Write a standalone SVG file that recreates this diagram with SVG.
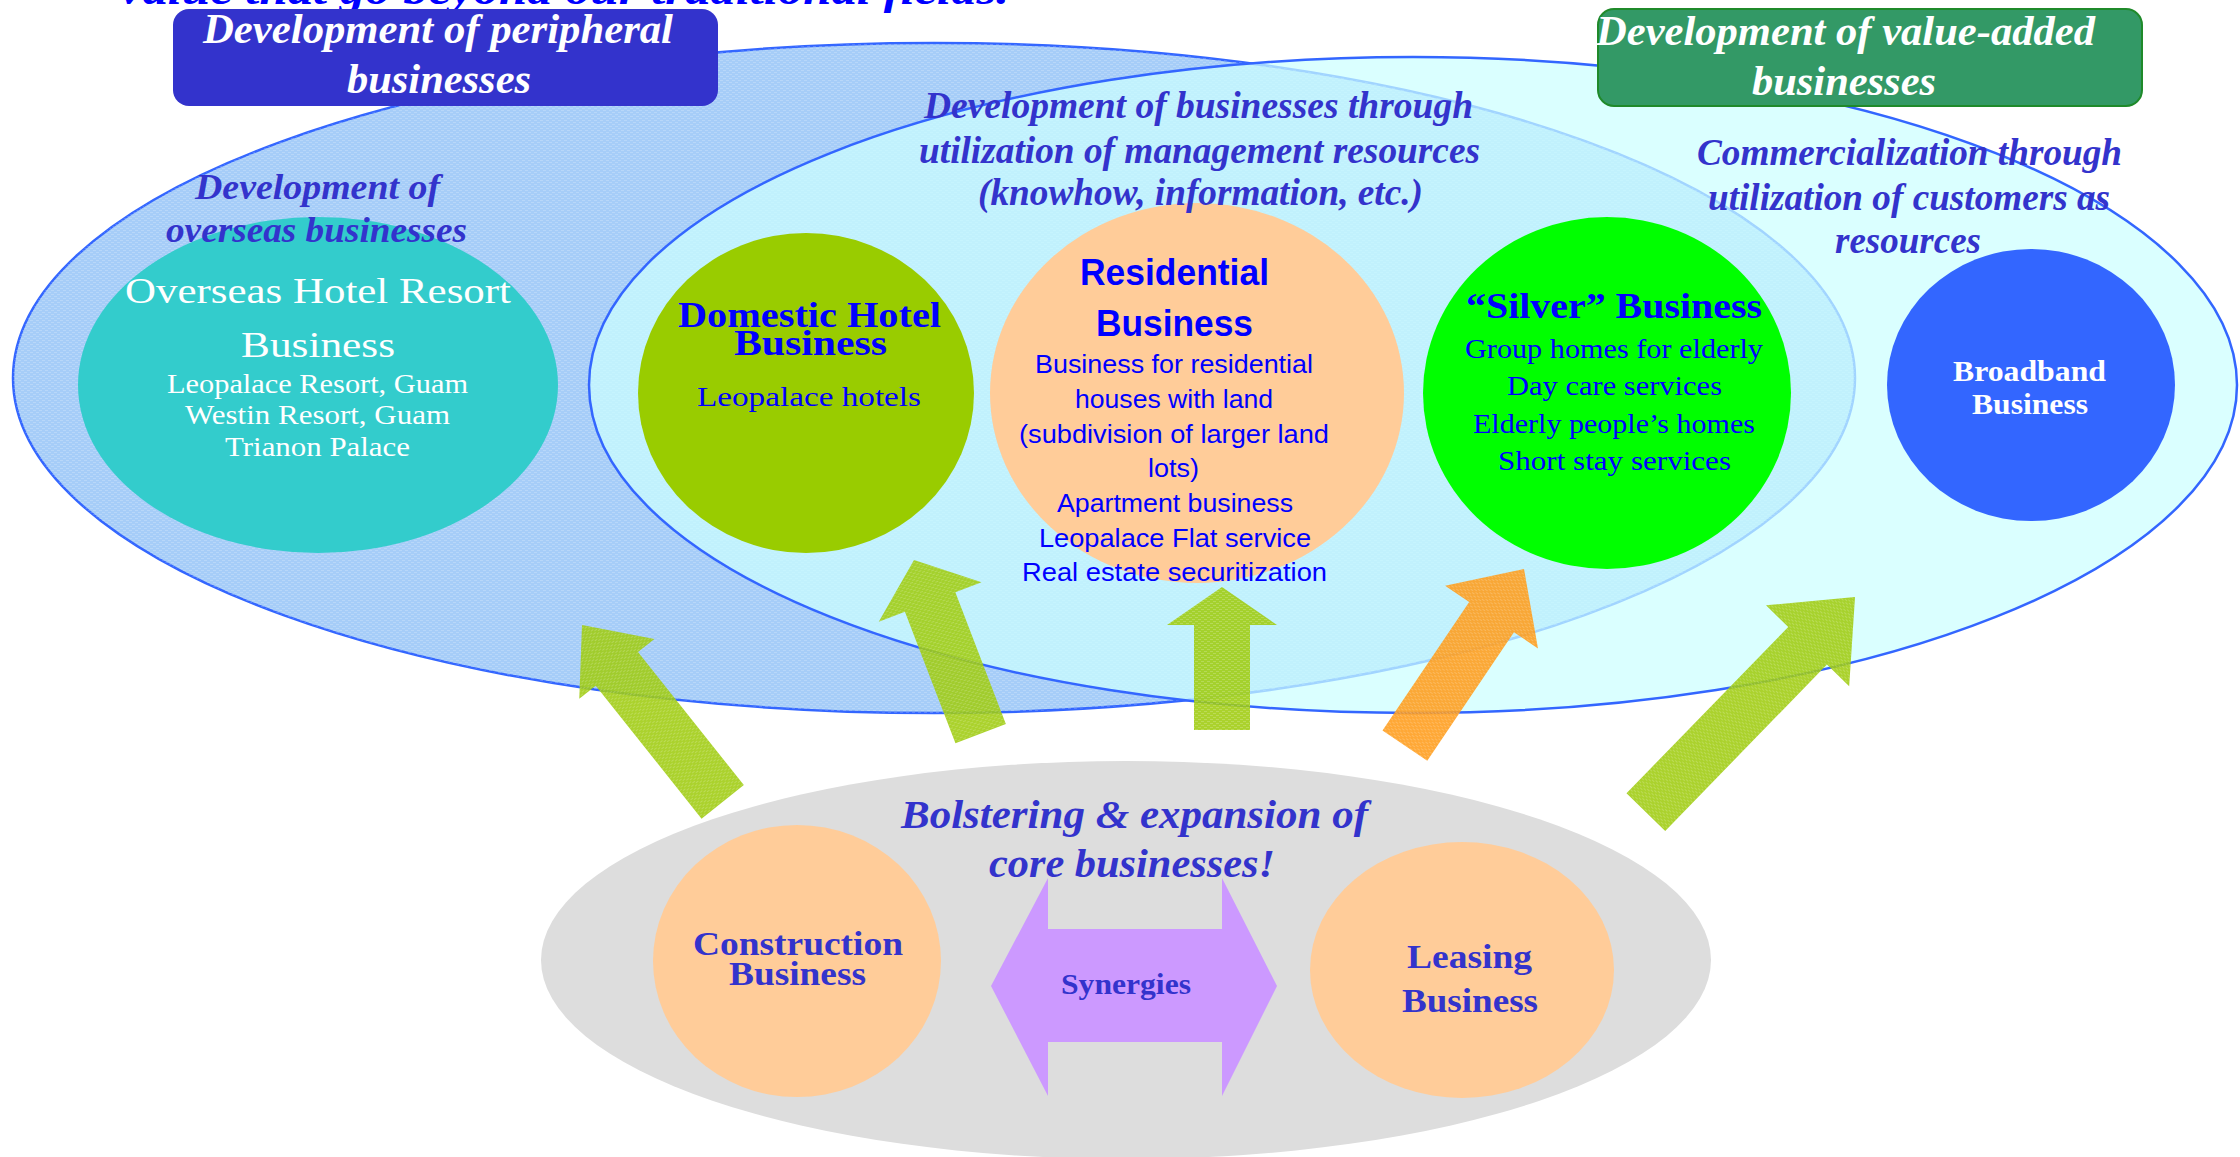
<svg xmlns="http://www.w3.org/2000/svg" width="2240" height="1157" viewBox="0 0 2240 1157">
<style>
.serif{font-family:"Liberation Serif","Times New Roman",serif}
.sans{font-family:"Liberation Sans",Arial,sans-serif}
.it{font-style:italic;font-weight:bold}
.b{font-weight:bold}
.lbl{fill:#3333cc}
.wt{fill:#ffffff}
.bl{fill:#0000ff}
.outline{stroke:#3366ff;stroke-width:2.5}
.green-arrow{fill:#9fcc10;opacity:0.88}
.orange-arrow{fill:#ff9c1a;opacity:0.88}
.tex{fill:url(#tex)}
</style>
<defs>
<pattern id="tex" width="6" height="4" patternUnits="userSpaceOnUse">
<rect x="0" y="0" width="3" height="1" fill="#ffffff" opacity="0.2"/>
<rect x="3" y="2" width="3" height="1" fill="#ffffff" opacity="0.2"/>
</pattern>
</defs>

<!-- background regions -->
<g id="region-peripheral">
<ellipse cx="934" cy="378" rx="921" ry="335" fill="#a6cdf8" class="outline"/>
<ellipse cx="934" cy="378" rx="921" ry="335" class="tex"/>
</g>
<g id="region-value-added">
<ellipse cx="1413" cy="385" rx="824" ry="328" fill="#ccffff" fill-opacity="0.72" class="outline"/>
</g>
<g id="region-core">
<ellipse cx="1126" cy="960" rx="585" ry="199" fill="#dddddd"/>
</g>

<!-- title (cut off at top) -->
<text class="serif it" x="120" y="4" font-size="44" fill="#0000ff" textLength="889" lengthAdjust="spacingAndGlyphs">value that go beyond our traditional fields.</text>

<!-- header boxes -->
<g id="header-peripheral">
<rect x="173" y="9" width="545" height="97" rx="16" fill="#3333cc"/>
<text class="serif it wt" font-size="42"><tspan x="203" y="43" textLength="470" lengthAdjust="spacingAndGlyphs">Development of peripheral</tspan><tspan x="347" y="93" textLength="184" lengthAdjust="spacingAndGlyphs">businesses</tspan></text>
</g>
<g id="header-value-added">
<rect x="1598" y="9" width="544" height="97" rx="16" fill="#339966" stroke="#1f8a2a" stroke-width="2"/>
<text class="serif it wt" font-size="42"><tspan x="1596" y="45" textLength="499" lengthAdjust="spacingAndGlyphs">Development of value-added</tspan><tspan x="1752" y="95" textLength="184" lengthAdjust="spacingAndGlyphs">businesses</tspan></text>
</g>

<!-- business nodes -->
<g id="node-overseas">
<ellipse cx="318" cy="385" rx="240" ry="168" fill="#33cccc"/>
<text class="serif wt" font-size="36"><tspan x="125" y="303" textLength="386" lengthAdjust="spacingAndGlyphs">Overseas Hotel Resort</tspan><tspan x="241" y="357" textLength="154" lengthAdjust="spacingAndGlyphs">Business</tspan></text>
<text class="serif wt" font-size="27"><tspan x="167" y="393" textLength="301" lengthAdjust="spacingAndGlyphs">Leopalace Resort, Guam</tspan><tspan x="185" y="424" textLength="265" lengthAdjust="spacingAndGlyphs">Westin Resort, Guam</tspan><tspan x="225" y="456" textLength="185" lengthAdjust="spacingAndGlyphs">Trianon Palace</tspan></text>
</g>
<g id="node-domestic-hotel">
<ellipse cx="806" cy="393" rx="168" ry="160" fill="#99cc00"/>
<text class="serif b bl" font-size="36"><tspan x="678" y="327" textLength="263" lengthAdjust="spacingAndGlyphs">Domestic Hotel</tspan><tspan x="734" y="355" textLength="153" lengthAdjust="spacingAndGlyphs">Business</tspan></text>
<text class="serif bl" font-size="27" x="697" y="406" textLength="224" lengthAdjust="spacingAndGlyphs">Leopalace hotels</text>
</g>
<g id="node-residential">
<ellipse cx="1197" cy="393" rx="207" ry="190" fill="#ffcc99"/>
<text class="sans b bl" font-size="37"><tspan x="1080" y="285" textLength="189" lengthAdjust="spacingAndGlyphs">Residential</tspan><tspan x="1096" y="336" textLength="157" lengthAdjust="spacingAndGlyphs">Business</tspan></text>
<text class="sans bl" font-size="26"><tspan x="1035" y="373" textLength="278" lengthAdjust="spacingAndGlyphs">Business for residential</tspan><tspan x="1075" y="408" textLength="198" lengthAdjust="spacingAndGlyphs">houses with land</tspan><tspan x="1019" y="443" textLength="310" lengthAdjust="spacingAndGlyphs">(subdivision of larger land</tspan><tspan x="1148" y="477" textLength="51" lengthAdjust="spacingAndGlyphs">lots)</tspan><tspan x="1057" y="512" textLength="236" lengthAdjust="spacingAndGlyphs">Apartment business</tspan><tspan x="1039" y="547" textLength="272" lengthAdjust="spacingAndGlyphs">Leopalace Flat service</tspan><tspan x="1022" y="581" textLength="305" lengthAdjust="spacingAndGlyphs">Real estate securitization</tspan></text>
</g>
<g id="node-silver">
<ellipse cx="1607" cy="393" rx="184" ry="176" fill="#00ff00"/>
<text class="serif b bl" font-size="36" x="1466" y="318" textLength="296" lengthAdjust="spacingAndGlyphs">“Silver” Business</text>
<text class="serif bl" font-size="27"><tspan x="1465" y="358" textLength="298" lengthAdjust="spacingAndGlyphs">Group homes for elderly</tspan><tspan x="1507" y="395" textLength="215" lengthAdjust="spacingAndGlyphs">Day care services</tspan><tspan x="1473" y="433" textLength="282" lengthAdjust="spacingAndGlyphs">Elderly people’s homes</tspan><tspan x="1498" y="470" textLength="233" lengthAdjust="spacingAndGlyphs">Short stay services</tspan></text>
</g>
<g id="node-broadband">
<ellipse cx="2031" cy="385" rx="144" ry="136" fill="#3366ff"/>
<text class="serif b wt" font-size="30"><tspan x="1953" y="381" textLength="153" lengthAdjust="spacingAndGlyphs">Broadband</tspan><tspan x="1972" y="414" textLength="116" lengthAdjust="spacingAndGlyphs">Business</tspan></text>
</g>
<g id="node-construction">
<ellipse cx="797" cy="961" rx="144" ry="136" fill="#ffcc99"/>
<text class="serif b lbl" font-size="34"><tspan x="693" y="955" textLength="210" lengthAdjust="spacingAndGlyphs">Construction</tspan><tspan x="729" y="985" textLength="137" lengthAdjust="spacingAndGlyphs">Business</tspan></text>
</g>
<g id="node-leasing">
<ellipse cx="1462" cy="970" rx="152" ry="128" fill="#ffcc99"/>
<text class="serif b lbl" font-size="34"><tspan x="1407" y="968" textLength="125" lengthAdjust="spacingAndGlyphs">Leasing</tspan><tspan x="1402" y="1012" textLength="136" lengthAdjust="spacingAndGlyphs">Business</tspan></text>
</g>

<!-- region labels -->
<g id="label-overseas">
<text class="serif it lbl" font-size="36"><tspan x="195" y="199" textLength="245" lengthAdjust="spacingAndGlyphs">Development of</tspan><tspan x="166" y="242" textLength="301" lengthAdjust="spacingAndGlyphs">overseas businesses</tspan></text>
</g>
<g id="label-management">
<text class="serif it lbl" font-size="37"><tspan x="924" y="118" textLength="549" lengthAdjust="spacingAndGlyphs">Development of businesses through</tspan><tspan x="919" y="163" textLength="561" lengthAdjust="spacingAndGlyphs">utilization of management resources</tspan><tspan x="978" y="205" textLength="445" lengthAdjust="spacingAndGlyphs">(knowhow, information, etc.)</tspan></text>
</g>
<g id="label-customers">
<text class="serif it lbl" font-size="37"><tspan x="1697" y="165" textLength="425" lengthAdjust="spacingAndGlyphs">Commercialization through</tspan><tspan x="1708" y="210" textLength="402" lengthAdjust="spacingAndGlyphs">utilization of customers as</tspan><tspan x="1835" y="253" textLength="146" lengthAdjust="spacingAndGlyphs">resources</tspan></text>
</g>
<g id="label-core">
<text class="serif it lbl" font-size="41"><tspan x="901" y="828" textLength="467" lengthAdjust="spacingAndGlyphs">Bolstering &amp; expansion of</tspan><tspan x="989" y="877" textLength="286" lengthAdjust="spacingAndGlyphs">core businesses!</tspan></text>
</g>

<!-- connectors -->
<g id="connectors">
<g transform="translate(582,625) rotate(-38.5)">
<path class="green-arrow" d="M0,0 L48,56 L27,56 L27,226 L-27,226 L-27,56 L-48,56 Z"/>
<path class="tex" d="M0,0 L48,56 L27,56 L27,226 L-27,226 L-27,56 L-48,56 Z"/>
</g>
<g transform="translate(914,560) rotate(-21)">
<path class="green-arrow" d="M0,0 L55,45 L27,45 L27,186 L-27,186 L-27,45 L-55,45 Z"/>
<path class="tex" d="M0,0 L55,45 L27,45 L27,186 L-27,186 L-27,45 L-55,45 Z"/>
</g>
<g transform="translate(1222,587)">
<path class="green-arrow" d="M0,0 L55,38 L28,38 L28,143 L-28,143 L-28,38 L-55,38 Z"/>
<path class="tex" d="M0,0 L55,38 L28,38 L28,143 L-28,143 L-28,38 L-55,38 Z"/>
</g>
<g transform="translate(1524,569) rotate(34)">
<path class="orange-arrow" d="M0,0 L56,58 L27,58 L27,213 L-27,213 L-27,58 L-56,58 Z"/>
<path class="tex" d="M0,0 L56,58 L27,58 L27,213 L-27,213 L-27,58 L-56,58 Z"/>
</g>
<g transform="translate(1855,597) rotate(44.2)">
<path class="green-arrow" d="M0,0 L58,68 L27,68 L27,300 L-27,300 L-27,68 L-58,68 Z"/>
<path class="tex" d="M0,0 L58,68 L27,68 L27,300 L-27,300 L-27,68 L-58,68 Z"/>
</g>
<g id="synergies">
<path fill="#cc99ff" d="M991,986 L1048,878 L1048,929 L1222,929 L1222,878 L1277,986 L1222,1096 L1222,1042 L1048,1042 L1048,1096 Z"/>
<text class="serif b lbl" font-size="30" x="1061" y="994" textLength="130" lengthAdjust="spacingAndGlyphs">Synergies</text>
</g>
</g>
</svg>
